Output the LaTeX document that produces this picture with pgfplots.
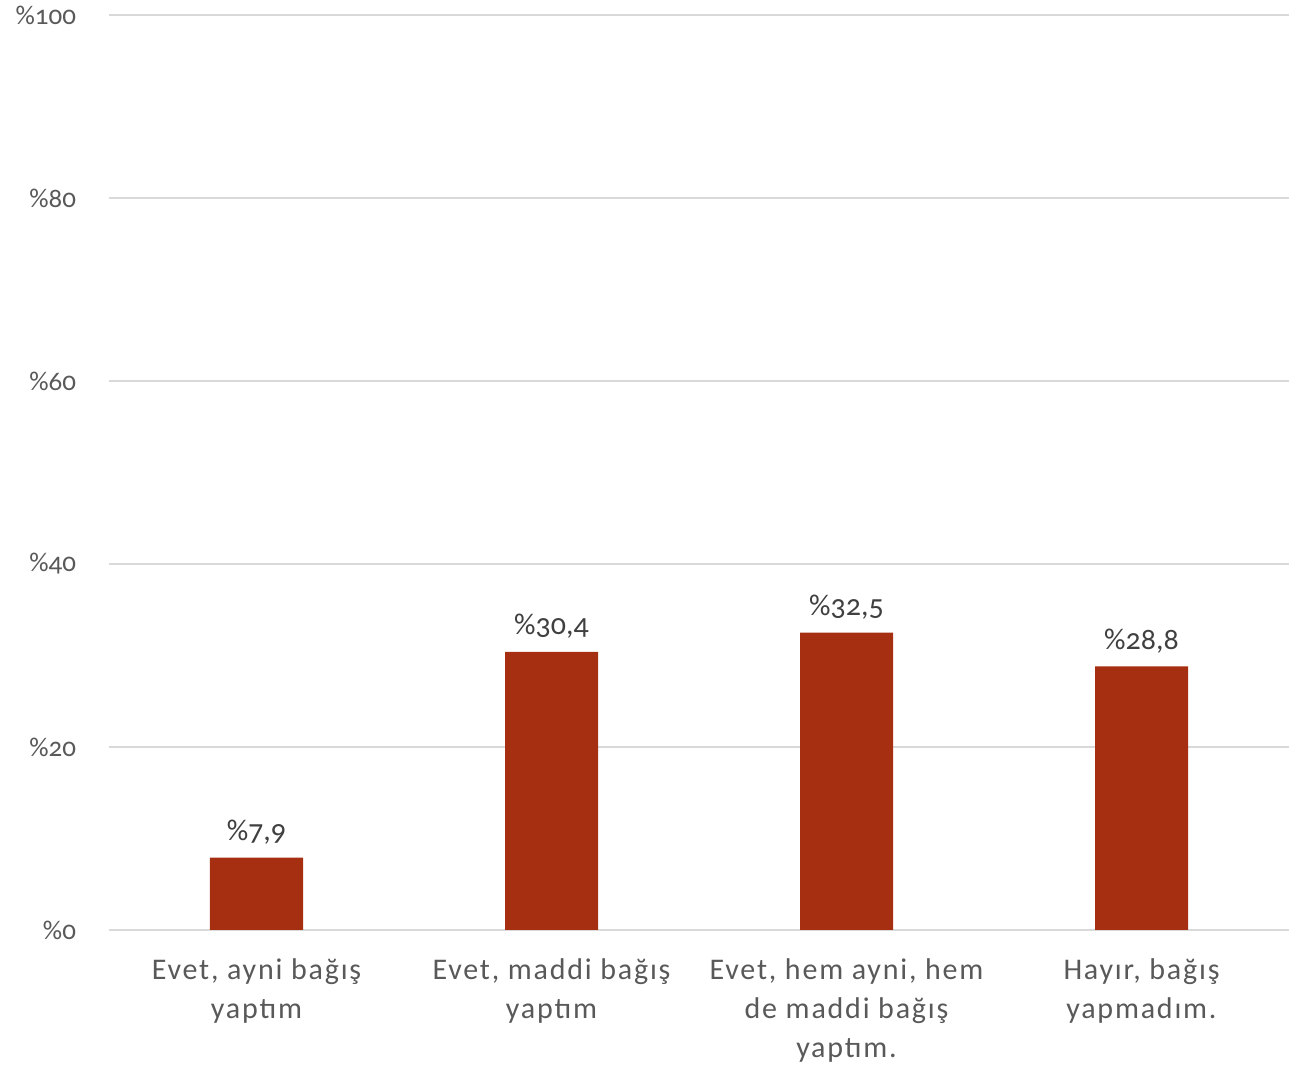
\documentclass[border=0pt]{standalone}
\usepackage{pgfplots}
\pgfplotsset{compat=1.18}
\usepackage{fontspec}
\setmainfont{Carlito}[Numbers=OldStyle]
\newfontfamily\catfont{Carlito}[LetterSpace=6]
\definecolor{barc}{HTML}{A52F10}
\definecolor{gridc}{HTML}{D9D9D9}
\definecolor{tickc}{HTML}{595959}
\definecolor{labc}{HTML}{404040}
\begin{document}
\begin{tikzpicture}
\useasboundingbox (-54.5pt,-69.5pt) rectangle (598.5pt,465pt);
\begin{axis}[
  at={(0,0)}, anchor=south west,
  scale only axis, width=590pt, height=457.5pt,
  xmin=-0.5, xmax=3.5, ymin=0, ymax=100,
  ybar, bar width=46.5pt,
  axis lines*=left,
  x axis line style={gridc, line width=1pt},
  y axis line style={draw=none},
  ymajorgrids, grid style={gridc, line width=1pt},
  ytick={0,20,40,60,80,100},
  yticklabels={\%0,\%20,\%40,\%60,\%80,\%100},
  yticklabel style={font=\fontsize{13.5}{16}\selectfont, text=tickc, anchor=east, xshift=-13pt},
  xtick={0,1,2,3}, major tick length=0pt,
  xticklabels={{Evet, ayni bağış\\yaptım},{Evet, maddi bağış\\yaptım},{Evet, hem ayni, hem\\de maddi bağış\\yaptım.},{Hayır, bağış\\yapmadım.}},
  xticklabel style={font=\catfont\fontsize{15}{19.5}\selectfont, text=tickc, align=center, anchor=north, yshift=-11pt},
  nodes near coords,
  point meta=explicit symbolic,
  every node near coord/.append style={font=\fontsize{15}{18}\selectfont, text=labc, yshift=3pt},
]
\addplot[fill=barc, draw=none] table[meta=lab] {
x y lab
0 7.9 \%7,9
1 30.4 \%30,4
2 32.5 \%32,5
3 28.8 \%28,8
};
\end{axis}
\end{tikzpicture}
\end{document}
